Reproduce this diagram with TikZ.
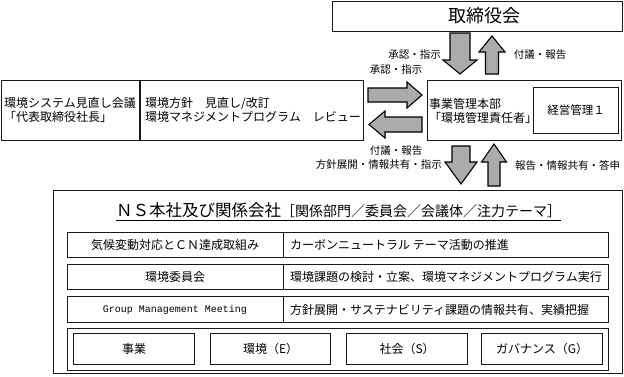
\documentclass[tikz,border=0pt]{standalone}
\usepackage{fontspec}
\setmainfont{Noto Sans CJK JP}
\newfontfamily\gmmono{Liberation Mono}
\begin{document}
\begin{tikzpicture}[x=1pt,y=-1pt,
  box/.style={draw=black!90, line width=1.2pt, inner sep=0pt, anchor=north west},
  rowbox/.style={draw=black!90, line width=1pt, inner sep=0pt, anchor=north west},
  txt/.style={inner sep=0pt, font=\fontsize{12}{14}\selectfont},
  lbl/.style={inner sep=0pt, font=\fontsize{10.5}{12}\selectfont},
  barrow/.style={draw=black, line width=1.1pt, fill=black!33, line join=miter}]
\useasboundingbox (0,0) rectangle (624,376);

% top board
\node[box, minimum width=290pt, minimum height=30pt] (board) at (332,1) {};
\node[inner sep=0pt, font=\fontsize{18}{20}\selectfont] (boardt) at (484,16) {取締役会};

% left review box
\node[box, minimum width=362pt, minimum height=60pt] (review) at (1,80) {};
\draw[line width=1.2pt, draw=black!90] ([xshift=139pt]review.north west) -- ([xshift=139pt]review.south west);
\node[txt, anchor=west, align=left] (reva) at (4,110) {環境システム見直し会議\\「代表取締役社長」};
\node[txt, anchor=west, align=left] (revb) at (145,110) {環境方針　見直し/改訂\\環境マネジメントプログラム　レビュー};

% HQ box
\node[box, minimum width=194pt, minimum height=60pt] (hq) at (427,80) {};
\node[txt, anchor=west, align=left] (hqt) at (429,111) {事業管理本部\\「環境管理責任者」};
\node[box, line width=1.1pt, minimum width=85pt, minimum height=46pt] (kei) at (533,87) {};
\node[inner sep=0pt, font=\fontsize{11.5}{13}\selectfont] (keit) at (kei.center) {経営管理１};

% arrows
\draw[barrow] (450,33) -- (470,33) -- (470,60) -- (477,60) -- (460,74) -- (443,60) -- (450,60) -- cycle;
\draw[barrow] (485.5,74) -- (498.5,74) -- (498.5,52) -- (505,52) -- (492,36) -- (479,52) -- (485.5,52) -- cycle;
\draw[barrow] (452,146) -- (470,146) -- (470,162) -- (477,162) -- (461,184) -- (445,162) -- (452,162) -- cycle;
\draw[barrow] (488,186) -- (500,186) -- (500,162) -- (506.5,162) -- (494,144) -- (481.5,162) -- (488,162) -- cycle;
\draw[barrow] (368,88) -- (407,88) -- (407,82) -- (422,95) -- (407,108) -- (407,102) -- (368,102) -- cycle;
\draw[barrow] (422,117) -- (385,117) -- (385,111) -- (369,124.5) -- (385,138) -- (385,132) -- (422,132) -- cycle;

% arrow labels
\node[lbl] (l1) at (414.5,55) {承認・指示};
\node[lbl] (l2) at (540,55) {付議・報告};
\node[lbl] (l3) at (396,70) {承認・指示};
\node[lbl] (l4) at (396,151) {付議・報告};
\node[lbl, anchor=east] (l5) at (442,165) {方針展開・情報共有・指示};
\node[lbl, anchor=west] (l6) at (515,165) {報告・情報共有・答申};

% big box
\node[box, line width=1.3pt, minimum width=569pt, minimum height=183pt] (ns) at (53,190) {};
\node[inner sep=0pt, anchor=base] (title) at (338.5,216) {{\fontsize{16.5}{18}\selectfont ＮＳ本社及び関係会社}{\fontsize{14}{16}\selectfont ［関係部門／委員会／会議体／注力テーマ］}};
\coordinate (ul) at (0,220.5);
\draw[line width=1pt] (title.west |- ul) -- (title.east |- ul);

% rows
\node[rowbox, minimum width=541pt, minimum height=25pt] (r1) at (67,232) {};
\draw[line width=1pt, draw=black!90] ([xshift=216pt]r1.north west) -- ([xshift=216pt]r1.south west);
\node[txt] (r1a) at ([xshift=108pt]r1.west) {気候変動対応とＣＮ達成取組み};
\node[txt, anchor=west] (r1b) at ([xshift=223pt]r1.west) {カーボンニュートラル テーマ活動の推進};

\node[rowbox, minimum width=541pt, minimum height=25pt] (r2) at (67,264) {};
\draw[line width=1pt, draw=black!90] ([xshift=216pt]r2.north west) -- ([xshift=216pt]r2.south west);
\node[txt] (r2a) at ([xshift=108pt]r2.west) {環境委員会};
\node[txt, anchor=west] (r2b) at ([xshift=223pt]r2.west) {環境課題の検討・立案、環境マネジメントプログラム実行};

\node[rowbox, minimum width=541pt, minimum height=26pt] (r3) at (67,296) {};
\draw[line width=1pt, draw=black!90] ([xshift=216pt]r3.north west) -- ([xshift=216pt]r3.south west);
\node[inner sep=0pt, font=\gmmono\fontsize{10}{12}\selectfont] (r3a) at ([xshift=108pt]r3.west) {Group Management Meeting};
\node[txt, anchor=west] (r3b) at ([xshift=223pt]r3.west) {方針展開・サステナビリティ課題の情報共有、実績把握};

% ESG group
\node[rowbox, line width=1.2pt, minimum width=541pt, minimum height=42pt] (grp) at (67,328) {};
\node[rowbox, line width=1.2pt, minimum width=121pt, minimum height=31pt] (g1) at (73,333) {};
\node[rowbox, line width=1.2pt, minimum width=120pt, minimum height=31pt] (g2) at (210,333) {};
\node[rowbox, line width=1.2pt, minimum width=121pt, minimum height=31pt] (g3) at (346,333) {};
\node[rowbox, line width=1.2pt, minimum width=121pt, minimum height=31pt] (g4) at (481,333) {};
\node[txt] (g1t) at (g1.center) {事業};
\node[txt] (g2t) at (g2.center) {環境（E）};
\node[txt] (g3t) at (g3.center) {社会（S）};
\node[txt] (g4t) at (g4.center) {ガバナンス（G）};
\end{tikzpicture}
\end{document}
